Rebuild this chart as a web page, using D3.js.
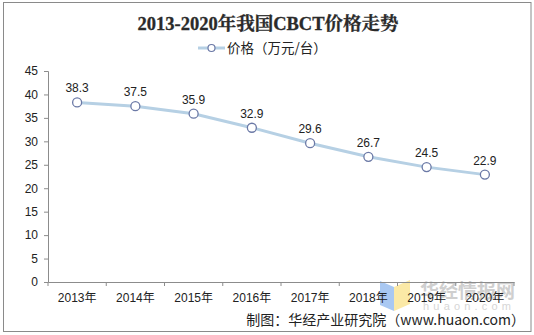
<!DOCTYPE html>
<html><head><meta charset="utf-8">
<script src="https://cdn.jsdelivr.net/npm/d3@7/dist/d3.min.js"></script>
<style>body{margin:0;background:#fff}svg{display:block}</style>
</head><body>
<script>
const categories = ["2013年","2014年","2015年","2016年","2017年","2018年","2019年","2020年"];
const prices = [38.3,37.5,35.9,32.9,29.6,26.7,24.5,22.9];
const yTicks = [0,5,10,15,20,25,30,35,40,45];
const title = "2013-2020年我国CBCT价格走势";
const seriesName = "价格（万元/台）";
const source = "制图：华经产业研究院（www.huaon.com）";

const W = 534, H = 335;
const svg = d3.select("body").append("svg").attr("width", W).attr("height", H);
svg.append("rect").attr("x",3.5).attr("y",2.5).attr("width",527.5).attr("height",329)
  .attr("fill","#fff").attr("stroke","#8a8a8a").attr("stroke-width",1);

// watermark
const wm = svg.append("g");
wm.append("path").attr("d","M380,281 L394,287 L394,311 L380,305 Z").attr("fill","#a9c8f2");
wm.append("path").attr("d","M394,287 L410,280 L410,304 L394,311 Z").attr("fill","#fbe9a6");
wm.append("text").attr("x",420).attr("y",298).attr("font-family","Noto Sans CJK SC").attr("font-weight","bold")
  .attr("font-size",19).attr("fill","#cfcfcf").text("华经情报网");
wm.append("text").attr("x",423).attr("y",310).attr("font-family","Liberation Sans")
  .attr("font-size",11).attr("letter-spacing",4.2).attr("fill","#d6d6d6").text("huaon.com");

const x = d3.scaleBand().domain(categories).range([48,514]);
const y = d3.scaleLinear().domain([0,45]).range([282,71]);

const font = "Liberation Sans, Arial, Noto Sans CJK SC, sans-serif";

const yAxis = svg.append("g").attr("transform","translate(48,0)")
  .call(d3.axisLeft(y).tickValues(yTicks).tickSize(4).tickPadding(6));
const xAxis = svg.append("g").attr("transform","translate(0,282)")
  .call(d3.axisBottom(x).tickSize(0).tickPadding(11));
[yAxis,xAxis].forEach(a=>{
  a.selectAll("path.domain").attr("stroke","#8c8c8c");
  a.selectAll(".tick line").attr("stroke","#8c8c8c");
  a.selectAll("text").attr("font-family",font).attr("font-size",12).attr("fill","#222");
});
// category boundary ticks
svg.append("g").selectAll("line").data(d3.range(categories.length+1)).join("line")
  .attr("x1",i=>48+i*x.step()).attr("x2",i=>48+i*x.step())
  .attr("y1",282).attr("y2",286).attr("stroke","#8c8c8c");

const cx = d=>x(d)+x.bandwidth()/2;
const line = d3.line().x((d,i)=>cx(categories[i])).y(d=>y(d));
svg.append("path").datum(prices).attr("d",line).attr("fill","none")
  .attr("stroke","#b6d0e4").attr("stroke-width",3);
svg.append("g").selectAll("circle").data(prices).join("circle")
  .attr("cx",(d,i)=>cx(categories[i])).attr("cy",d=>y(d)).attr("r",4.5)
  .attr("fill","#fff").attr("stroke","#6b79a6").attr("stroke-width",1.3);
svg.append("g").selectAll("text").data(prices).join("text")
  .attr("x",(d,i)=>cx(categories[i])).attr("y",d=>y(d)-10).attr("text-anchor","middle")
  .attr("font-family",font).attr("font-size",12).attr("fill","#222").text(d=>d.toFixed(1));

svg.append("text").attr("x",268).attr("y",30).attr("text-anchor","middle")
  .attr("font-family","Liberation Serif, Noto Serif CJK SC, serif").attr("font-weight","bold")
  .attr("font-size",18.5).attr("fill","#2a2a2a").attr("stroke","#2a2a2a").attr("stroke-width",0.3).text(title);

// legend
svg.append("line").attr("x1",198).attr("x2",225).attr("y1",48).attr("y2",48)
  .attr("stroke","#b6d0e4").attr("stroke-width",3);
svg.append("circle").attr("cx",211.5).attr("cy",48).attr("r",3.5).attr("fill","#fff")
  .attr("stroke","#6b79a6").attr("stroke-width",1.2);
svg.append("text").attr("x",227).attr("y",53).attr("font-family","Noto Sans CJK SC, sans-serif")
  .attr("font-size",13.5).attr("fill","#222").text(seriesName);

svg.append("text").attr("x",525).attr("y",325).attr("text-anchor","end")
  .attr("font-family","Noto Sans CJK SC, sans-serif").attr("font-size",14).attr("fill","#222").text(source);
</script>
</body></html>
